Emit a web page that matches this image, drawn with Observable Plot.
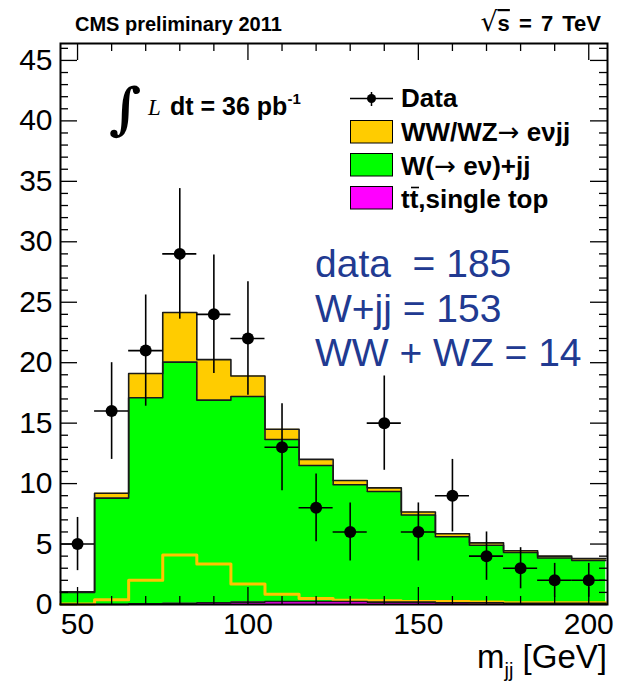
<!DOCTYPE html>
<html><head><meta charset="utf-8">
<script src="https://cdn.jsdelivr.net/npm/d3@7"></script>
<script src="https://cdn.jsdelivr.net/npm/@observablehq/plot@0.6"></script>
<style>
html,body{margin:0;padding:0;background:#fff;}
#wrap{position:relative;width:618px;height:684px;overflow:hidden;}
#wrap > svg{position:absolute;left:0;top:0;}
</style></head><body><div id="wrap"></div>
<script>
// ---- data ----
const binEdges   = [45,55,65,75,85,95,105,115,125,135,145,155,165,175,185,195,205];
const binCenters = [50,60,70,80,90,100,110,120,130,140,150,160,170,180,190,200];
const dataCounts = [5,16,21,29,24,22,13,8,6,15,6,9,4,3,2,2];
const dataErrors = [2.2,4.0,4.6,5.4,4.9,4.7,3.6,2.8,2.4,3.9,2.4,3.0,2.0,1.7,1.4,1.4];
const ttbar = [0,0,0.05,0.1,0.15,0.2,0.25,0.25,0.25,0.2,0.2,0.15,0.15,0.1,0.1,0.1];
const wjets = [1.0,8.8,17.05,19.95,16.75,17.0,13.4,11.25,9.65,9.15,7.2,5.45,4.75,4.2,3.75,3.55];
const wwwz  = [0.05,0.4,2.0,4.1,3.35,1.7,0.85,0.5,0.35,0.3,0.25,0.25,0.2,0.15,0.15,0.15];
const compNames  = ["ttbar","wjets","wwwz"];
const compColors = ["#ff00ff","#00ff00","#ffcc00"];
const xMajor = [50,100,150,200];
const xMinor = [60,70,80,90,110,120,130,140,160,170,180,190];
const yMajor = [0,5,10,15,20,25,30,35,40,45];
const yMinor = d3.range(1,47).filter(v => v % 5 !== 0);
const headerLeft = "CMS preliminary 2011";
const summaryLines = ["data  = 185","W+jj = 153","WW + WZ = 14"];

// ---- derived tables ----
const comps = {ttbar, wjets, wwwz};
const areaRows = [];
const outlineRows = [];
let cum = binCenters.map(() => 0);
compNames.forEach(c => {
  const base = cum;
  cum = cum.map((v,i) => v + comps[c][i]);
  cum.forEach((v,i) => {
    areaRows.push({comp:c, x:binEdges[i],   y1:base[i], y2:v});
    areaRows.push({comp:c, x:binEdges[i+1], y1:base[i], y2:v});
    outlineRows.push({level:c, x:binEdges[i], y:v});
    outlineRows.push({level:c, x:binEdges[i+1], y:v});
  });
});
const wwStep = [];
wwwz.forEach((v,i) => { wwStep.push({x:binEdges[i], y:v}); wwStep.push({x:binEdges[i+1], y:v}); });
const dataRows = binCenters.map((x,i) => ({x, n:dataCounts[i], lo:dataCounts[i]-dataErrors[i],
  hi:dataCounts[i]+dataErrors[i], x1:binEdges[i], x2:binEdges[i+1]}));

const W = 618, H = 684, mL = 60, mR = 11, mT = 43, mB = 80;
const innerW = W - mL - mR, innerH = H - mT - mB;
const majLen = 17, minLen = 8, tickW = 1.3;

const chart = Plot.plot({
  width: W, height: H,
  marginLeft: mL, marginRight: mR, marginTop: mT, marginBottom: mB,
  style: {fontFamily: "'Liberation Sans', Arial, Helvetica, sans-serif", color: "black", background: "white"},
  x: {domain: [45, 205.5]},
  y: {domain: [0, 46.4]},
  color: {domain: compNames, range: compColors},
  marks: [
    Plot.areaY(areaRows, {x:"x", y1:"y1", y2:"y2", z:"comp", fill:"comp"}),
    Plot.line(wwStep, {x:"x", y:"y", stroke:"#ffc400", strokeWidth:3}),
    Plot.line(outlineRows, {x:"x", y:"y", z:"level", stroke:"#1a1a1a", strokeWidth:1.6}),
    Plot.ruleX(dataRows, {x:"x", y1:"lo", y2:"hi", stroke:"black", strokeWidth:1.6}),
    Plot.ruleY(dataRows, {y:"n", x1:"x1", x2:"x2", stroke:"black", strokeWidth:1.6}),
    Plot.dot(dataRows, {x:"x", y:"n", r:6, fill:"black", stroke:null}),
    // inward ticks on all four sides
    Plot.ruleX(xMajor, {insetTop: innerH - majLen, stroke:"black", strokeWidth:tickW}),
    Plot.ruleX(xMinor, {insetTop: innerH - minLen, stroke:"black", strokeWidth:tickW}),
    Plot.ruleX(xMajor, {insetBottom: innerH - majLen, stroke:"black", strokeWidth:tickW}),
    Plot.ruleX(xMinor, {insetBottom: innerH - minLen, stroke:"black", strokeWidth:tickW}),
    Plot.ruleY(yMajor, {insetRight: innerW - majLen, stroke:"black", strokeWidth:tickW}),
    Plot.ruleY(yMinor, {insetRight: innerW - minLen, stroke:"black", strokeWidth:tickW}),
    Plot.ruleY(yMajor, {insetLeft: innerW - majLen, stroke:"black", strokeWidth:tickW}),
    Plot.ruleY(yMinor, {insetLeft: innerW - minLen, stroke:"black", strokeWidth:tickW}),
    Plot.axisX({ticks: xMajor, tickSize: 0, tickPadding: 8, fontSize: 30, label: null, tickFormat: d => String(d)}),
    Plot.axisY({ticks: yMajor, tickSize: 0, tickPadding: 8, fontSize: 30, label: null, tickFormat: d => String(d)}),
    Plot.frame({stroke:"black", strokeWidth:2})
  ]
});
const wrap = document.getElementById("wrap");
wrap.appendChild(chart);

// ---- overlay: header, luminosity, legend, summary, axis title ----
const ov = d3.create("svg").attr("width", W).attr("height", H)
  .style("font-family", "'Liberation Sans', Arial, Helvetica, sans-serif");
ov.append("text").attr("x", 75).attr("y", 31).attr("font-size", 20).attr("font-weight", "bold").text(headerLeft);
const rs = ov.append("text").attr("x", 601).attr("y", 31).attr("font-size", 22).attr("font-weight", "bold")
  .attr("text-anchor", "end").attr("word-spacing", 3);
rs.append("tspan").attr("font-size", 27).attr("font-weight", "normal")
  .attr("font-family", "'DejaVu Sans', sans-serif").text("√");
rs.append("tspan").attr("text-decoration", "overline").text("s");
rs.append("tspan").text(" = 7 TeV");

// luminosity
ov.append("text").attr("x", 109).attr("y", 128).attr("font-size", 56).attr("font-weight", "bold")
  .attr("font-style", "italic")
  .attr("font-family", "'DejaVu Serif', 'Liberation Serif', serif").text("∫");
ov.append("text").attr("x", 148).attr("y", 115).attr("font-size", 23).attr("font-style", "italic")
  .attr("font-family", "'Liberation Serif', 'DejaVu Serif', serif").text("L");
const lum = ov.append("text").attr("x", 170).attr("y", 115).attr("font-size", 25).attr("font-weight", "bold");
lum.append("tspan").text("dt = 36 pb");
lum.append("tspan").attr("font-size", 15).attr("dy", -11).text("-1");

// legend
const lg = ov.append("g");
lg.append("line").attr("x1", 350).attr("x2", 393).attr("y1", 98.5).attr("y2", 98.5).attr("stroke", "black").attr("stroke-width", 1.5);
lg.append("line").attr("x1", 371.5).attr("x2", 371.5).attr("y1", 92).attr("y2", 106).attr("stroke", "black").attr("stroke-width", 1.5);
lg.append("circle").attr("cx", 371.5).attr("cy", 98.5).attr("r", 4.5).attr("fill", "black");
lg.append("text").attr("x", 401).attr("y", 107).attr("font-size", 26).attr("font-weight", "bold").text("Data");
const arrowFont = "'DejaVu Sans', sans-serif";
const boxes = [
  {color: compColors[2], y: 120.5, base: 141, parts: [["WW/WZ"], ["→", arrowFont], [" eνjj"]]},
  {color: compColors[1], y: 153.5, base: 175, parts: [["W("], ["→", arrowFont], [" eν)+jj"]]},
  {color: compColors[0], y: 186.5, base: 208, parts: [["tt,single top"]], bar: true}
];
boxes.forEach(b => {
  lg.append("rect").attr("x", 350.5).attr("y", b.y).attr("width", 42).attr("height", 22.5)
    .attr("fill", b.color).attr("stroke", "black").attr("stroke-width", 1);
  const t = lg.append("text").attr("x", 401).attr("y", b.base).attr("font-size", 26).attr("font-weight", "bold");
  b.parts.forEach(([s, fam]) => {
    const sp = t.append("tspan").text(s);
    if (fam) sp.attr("font-family", fam).attr("font-weight", "normal");
  });
  if (b.bar) {
    // anti-top bar over the second "t"
    lg.append("line").attr("x1", 411).attr("x2", 419).attr("y1", b.base - 20.5).attr("y2", b.base - 20.5)
      .attr("stroke", "black").attr("stroke-width", 1.6);
  }
});

// summary numbers
summaryLines.forEach((s, i) => {
  ov.append("text").attr("x", 315).attr("y", [277, 322, 366][i]).attr("font-size", 39)
    .attr("fill", "#213a91").style("white-space", "pre").text(s);
});

// axis title
const xt = ov.append("text").attr("x", 607).attr("y", 668).attr("font-size", 33).attr("text-anchor", "end");
xt.append("tspan").text("m");
xt.append("tspan").attr("font-size", 20).attr("dy", 9).text("jj");
xt.append("tspan").attr("dy", -9).text(" [GeV]");

wrap.appendChild(ov.node());
</script></body></html>
